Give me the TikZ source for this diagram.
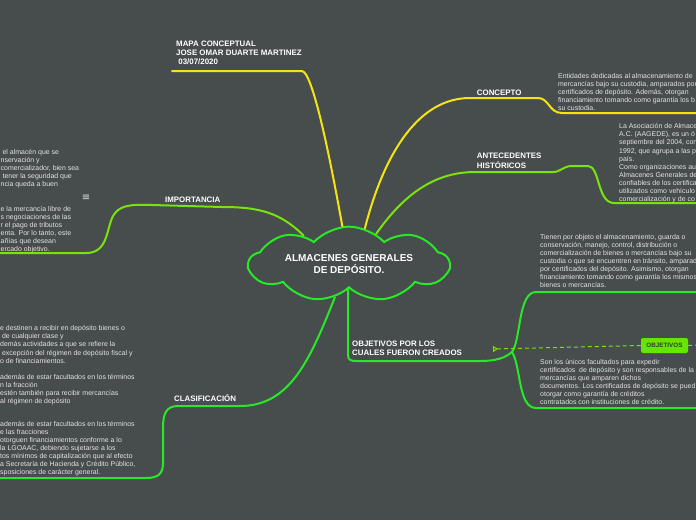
\documentclass[tikz,border=0pt]{standalone}
\usepackage{fontspec}
\setmainfont{Liberation Sans}
\newfontfamily\dejavu{DejaVu Sans}
\usetikzlibrary{shapes.symbols,arrows.meta}
\definecolor{bg}{RGB}{71,76,77}
\definecolor{ylw}{RGB}{245,228,20}
\definecolor{lime}{RGB}{120,228,10}
\definecolor{grn}{RGB}{40,232,40}
\definecolor{txt}{RGB}{228,228,228}
\definecolor{boxg}{RGB}{100,230,0}
\definecolor{boxt}{RGB}{55,65,35}
\begin{document}
\begin{tikzpicture}[x=1pt,y=-1pt,
 body/.style={font=\fontsize{6.95}{8.1}\selectfont, text=txt, align=left, anchor=north west, inner sep=0pt},
 lbl/.style={font=\fontsize{7.9}{9.2}\selectfont\bfseries, text=white, align=left, anchor=north west, inner sep=0pt},
 br/.style={line width=2pt, line cap=round},
]
\useasboundingbox (0,0) rectangle (696,520);
\clip (0,0) rectangle (696,520);
\fill[bg] (0,0) rectangle (696,520);

% central cloud
\node[cloud, draw=grn, line width=2pt, fill=bg, cloud puffs=9, cloud puff arc=95, aspect=3.6,
      minimum width=200pt, minimum height=56pt, inner sep=0pt, align=center,
      font=\fontsize{10}{11.7}\selectfont\bfseries, text=white] (c) at (349,264)
      {ALMACENES GENERALES\\DE DEPÓSITO.};

% title branch
\coordinate (tEnd) at (172,71);
\node[lbl] (title) at (176,40.4) {MAPA CONCEPTUAL\\JOSE OMAR DUARTE MARTINEZ\\\ 03/07/2020};
\draw[br, ylw] (c.100) .. controls (334,180) and (314,72) .. (302,71) -- (tEnd);

% concepto branch
\coordinate (cEnd) at (696,113);
\node[lbl] (concepto) at (476.7,89.4) {CONCEPTO};
\draw[br, ylw] (c.66) .. controls (385,150) and (420,98) .. (470,98) -- (538,98)
  .. controls (549,98) and (549,113) .. (562,113) -- (cEnd);
\node[body] (conceptotxt) at (558,73) {Entidades dedicadas al almacenamiento de\\
mercancías bajo su custodia, amparados por\\
certificados de depósito. Además, otorgan\\
financiamiento tomando como garantía los b\\
su custodia.};

% antecedentes branch
\coordinate (aEnd) at (696,203);
\node[lbl] (antec) at (476.7,153.1) {ANTECEDENTES\\HISTÓRICOS};
\draw[br, lime] (c.48) .. controls (400,200) and (430,172) .. (475,172) -- (553,172)
  .. controls (561,172) and (563,166) .. (572,166) -- (588,166)
  .. controls (600,166) and (597,203) .. (614,203) -- (aEnd);
\node[body] (antectxt) at (619,123.4) {La Asociación de Almace\\
A.C. (AAGEDE), es un ó\\
septiembre del 2004, con\\
1992, que agrupa a las p\\
país.\\
Como organizaciones au\\
Almacenes Generales de\\
confiables de los certifica\\
utilizados como vehículo\\
comercialización y de co};

% importancia branch
\coordinate (iEnd) at (0,253);
\node[lbl, anchor=base west] (impo) at (165,202.1) {IMPORTANCIA};
\draw[br, lime] (c.148) .. controls (280,212) and (258,207) .. (222,207) -- (152,205)
  .. controls (128,204) and (119,206) .. (113,216) .. controls (106,230) and (108,253) .. (86,253) -- (iEnd);
\node[font=\dejavu\fontsize{10}{10}\selectfont, text=txt, inner sep=0pt] (menu) at (86,198) {≡};
\node[body] (impotxt1) at (0.5,149) {\ el almacén que se\\
nservación y\\
comercializador, bien sea\\
\ tener la seguridad que\\
ncia queda a buen};
\node[body] (impotxt2) at (0.5,205.7) {e la mercancía libre de\\
s negociaciones de las\\
r el pago de tributos\\
enta. Por lo tanto, este\\
añías que desean\\
ercado objetivo.};

% clasificacion branch
\coordinate (clEnd) at (0,478);
\node[lbl, anchor=base west] (clasif) at (174,401.9) {CLASIFICACIÓN};
\draw[br, grn] (c.247) .. controls (310,360) and (290,406) .. (240,406) -- (178,406)
  .. controls (166,406) and (163,414) .. (163,428) -- (163,463)
  .. controls (163,474) and (158,478) .. (146,478) -- (clEnd);
\node[body] (cltxt1) at (0,325.4) {e destinen a recibir en depósito bienes o\\
\ de cualquier clase y\\
demás actividades a que se refiere la\\
\ excepción del régimen de depósito fiscal y\\
o de financiamientos.\\[8.1pt]
además de estar facultados en los términos\\
n la fracción\\
estén también para recibir mercancías\\
al régimen de depósito};
\node[body] (cltxt2) at (0,420.7) {además de estar facultados en los términos\\
e las fracciones\\
otorguen financiamientos conforme a lo\\
la LGOAAC, debiendo sujetarse a los\\
tos mínimos de capitalización que al efecto\\
a Secretaría de Hacienda y Crédito Público,\\
sposiciones de carácter general.};

% objetivos branch
\coordinate (j) at (512,352);
\coordinate (oUp) at (696,292);
\coordinate (oDn) at (696,408);
\node[lbl] (objlbl) at (352,340.4) {OBJETIVOS POR LOS\\CUALES FUERON CREADOS};
\draw[br, grn] (c.268) -- (348,354) .. controls (348,360) and (350,361) .. (357,361) -- (480,361)
  .. controls (496,361) and (505,358) .. (j);
\draw[br, grn] (j) .. controls (521,340) and (518,292) .. (536,292) -- (oUp);
\draw[br, grn] (j) .. controls (521,366) and (518,408) .. (536,408) -- (oDn);
\node[body] (objtxt1) at (540,234) {Tienen por objeto el almacenamiento, guarda o\\
conservación, manejo, control, distribución o\\
comercialización de bienes o mercancías bajo su\\
custodia o que se encuentren en tránsito, amparad\\
por certificados del depósito. Asimismo, otorgan\\
financiamiento tomando como garantía los mismos\\
bienes o mercancías.};
\node[body] (objtxt2) at (540,359) {Son los únicos facultados para expedir\\
certificados\ \ de depósito y son responsables de la\\
mercancías que amparen dichos\\
documentos. Los certificados de depósito se pued\\
otorgar como garantía de créditos\\
contratados con instituciones de crédito.};

% OBJETIVOS box and dashed link
\node[fill=boxg, rounded corners=2pt, minimum width=47pt, minimum height=15pt, inner sep=0pt,
      font=\fontsize{6.3}{7}\selectfont\bfseries, text=boxt] (obj) at (664.5,345.5) {OBJETIVOS};
\coordinate (arr) at (493,349);
\coordinate (dEnd) at (696,345);
\draw[lime, line width=1pt, dash pattern=on 4pt off 3pt, {Triangle[open,reversed,length=5pt,width=6pt]}-] (arr) -- (obj.west);
\draw[lime, line width=1pt, dash pattern=on 4pt off 3pt] (obj.east) -- (dEnd);
\end{tikzpicture}
\end{document}
